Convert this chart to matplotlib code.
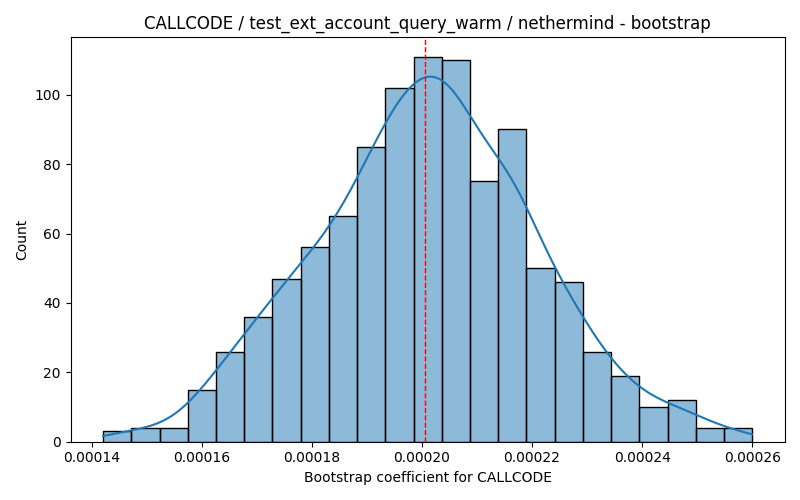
import numpy as np
import matplotlib
matplotlib.use("Agg")
import matplotlib.pyplot as plt

# histogram: 23 bins, 1000 bootstrap samples
bin_lo = 0.0001421
bin_hi = 0.00026
counts = [3, 4, 4, 15, 26, 36, 47, 56, 65, 85, 102, 111,
          110, 75, 90, 50, 46, 26, 19, 10, 12, 4, 4]
mean_coef = 0.0002005

title = "CALLCODE / test_ext_account_query_warm / nethermind - bootstrap"
xlabel = "Bootstrap coefficient for CALLCODE"
ylabel = "Count"


def kde_curve(centers, weights, grid, binw):
    # gaussian kde (scott bandwidth) scaled to counts like seaborn does
    w = np.asarray(weights, dtype=float)
    n = w.sum()
    mu = np.sum(centers * w) / n
    sd = np.sqrt(np.sum(w * (centers - mu) ** 2) / n)
    bw = sd * n ** (-1 / 5)
    z = (grid[:, None] - centers[None, :]) / bw
    dens = (np.exp(-0.5 * z ** 2) * w).sum(axis=1) / (n * bw * np.sqrt(2 * np.pi))
    return dens * n * binw


def main():
    edges = np.linspace(bin_lo, bin_hi, len(counts) + 1)
    binw = edges[1] - edges[0]
    centers = (edges[:-1] + edges[1:]) / 2

    fig, ax = plt.subplots(figsize=(8, 5), dpi=100)
    ax.bar(edges[:-1], counts, width=binw, align="edge",
           facecolor=(0.122, 0.467, 0.706, 0.5), edgecolor="black", linewidth=1)

    grid = np.linspace(bin_lo, bin_hi, 200)
    ax.plot(grid, kde_curve(centers, counts, grid, binw), color="#1f77b4", linewidth=1.5)

    ax.axvline(mean_coef, color="red", linestyle="--", linewidth=1, zorder=3)

    ax.set_title(title)
    ax.set_xlabel(xlabel)
    ax.set_ylabel(ylabel)

    plt.tight_layout()
    plt.savefig("out.png")


if __name__ == "__main__":
    main()
